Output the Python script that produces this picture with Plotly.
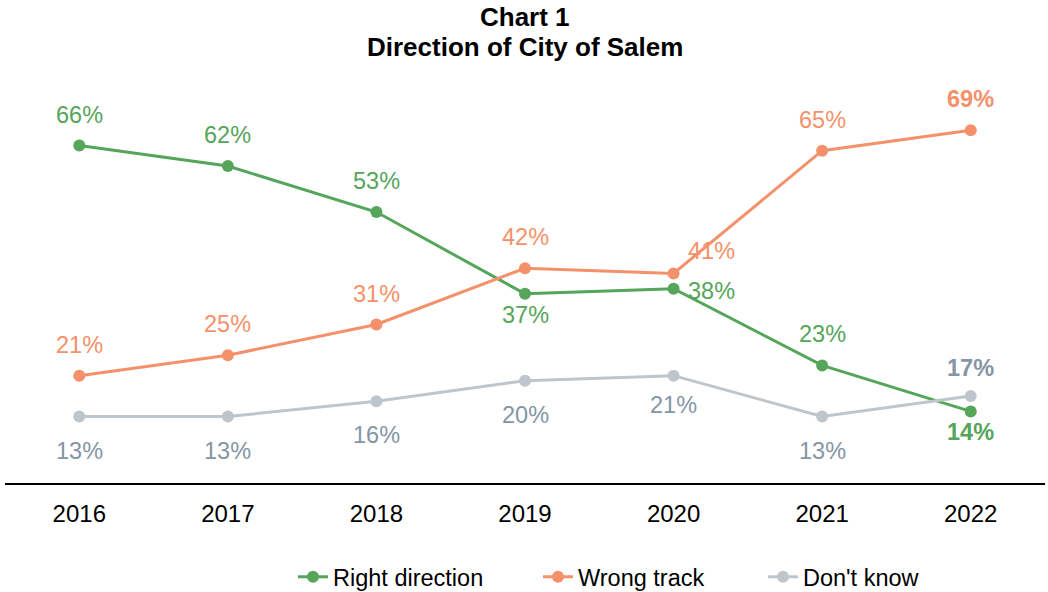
import plotly.graph_objects as go

years = ["2016", "2017", "2018", "2019", "2020", "2021", "2022"]
right_direction = [66, 62, 53, 37, 38, 23, 14]
wrong_track = [21, 25, 31, 42, 41, 65, 69]
dont_know = [13, 13, 16, 20, 21, 13, 17]

series_names = ["Right direction", "Wrong track", "Don't know"]
line_colors = ["#55A55A", "#F4916A", "#BEC6CC"]
label_colors = ["#55A55A", "#F4916A", "#8495A5"]
label_pos = [
    ["above", "above", "above", "below_near", "right", "above", "below_near"],
    ["above", "above", "above", "above", "upper_right", "above", "above"],
    ["below", "below", "below", "below", "below_mid", "below", "above_near"],
]
offsets = {
    "above": (0, 31),
    "above_near": (0, 28),
    "below": (0, -34),
    "below_mid": (0, -29),
    "below_near": (0, -21),
    "right": (38, -2),
    "upper_right": (38, 22),
}
# left edge (px) of each legend entry's text
legend_text_left = [333, 578, 803]

all_values = [right_direction, wrong_track, dont_know]
FONT = "Liberation Sans, Arial, sans-serif"

W, H = 1048, 592
plot_left, plot_right = 5, 1045
plot_top, plot_bottom = 74, 483
pw = plot_right - plot_left
ph = plot_bottom - plot_top

legend_ids = ["legend", "legend2", "legend3"]

fig = go.Figure()
for name, vals, col, lid in zip(series_names, all_values, line_colors, legend_ids):
    fig.add_trace(go.Scatter(
        x=list(range(len(years))), y=vals, name=name, mode="lines+markers",
        line=dict(color=col, width=3),
        marker=dict(color=col, size=12),
        legend=lid,
    ))

annotations = []
for vals, lcol, poss in zip(all_values, label_colors, label_pos):
    for i, (v, p) in enumerate(zip(vals, poss)):
        dx, dy = offsets[p]
        last = i == len(years) - 1
        txt = f"<b>{v}%</b>" if last else f"{v}%"
        annotations.append(dict(
            x=i, y=v, xref="x", yref="y", text=txt, showarrow=False,
            xshift=dx, yshift=dy,
            font=dict(color=lcol, size=23.5, family=FONT),
            xanchor="center", yanchor="middle",
        ))

for txt, ypix in [("<b>Chart 1</b>", 17), ("<b>Direction of City of Salem</b>", 47)]:
    annotations.append(dict(
        x=0.5, xref="paper", y=(plot_bottom - ypix) / ph, yref="paper",
        text=txt, showarrow=False, xanchor="center", yanchor="middle",
        font=dict(size=26, color="black", family=FONT),
    ))

legend_layouts = {}
for lid, tx in zip(legend_ids, legend_text_left):
    legend_layouts[lid] = dict(
        orientation="h",
        x=(tx - 40 - plot_left) / pw, xanchor="left",
        y=(plot_bottom - 577) / ph, yanchor="middle",
        font=dict(size=23.5, color="black"),
        bgcolor="rgba(0,0,0,0)", borderwidth=0,
    )

fig.update_layout(
    width=W, height=H,
    paper_bgcolor="white", plot_bgcolor="white",
    margin=dict(l=plot_left, r=W - plot_right, t=plot_top, b=H - plot_bottom,
                autoexpand=False),
    font=dict(family=FONT, color="black"),
    xaxis=dict(
        range=[-0.5, 6.5], showgrid=False,
        tickmode="array", tickvals=list(range(len(years))), ticktext=years,
        showline=True, linecolor="black", linewidth=2,
        ticks="", tickfont=dict(size=24, color="black"),
        ticklabelstandoff=8,
        zeroline=False, fixedrange=True,
    ),
    yaxis=dict(range=[0, 80], visible=False, showgrid=False, zeroline=False),
    showlegend=True,
    annotations=annotations,
    **legend_layouts,
)

fig.write_html(
    "out.html",
    config={"displayModeBar": False},
    post_script="document.body.style.margin='0';document.body.style.padding='0';",
)
